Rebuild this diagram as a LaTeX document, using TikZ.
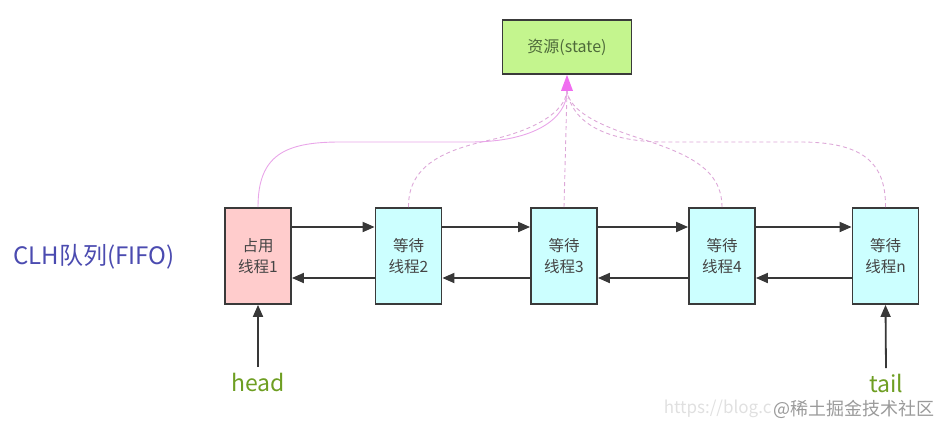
\documentclass[tikz,border=0pt]{standalone}
\usepackage{fontspec}
\setmainfont{Noto Sans CJK SC}
\usetikzlibrary{arrows.meta}
\definecolor{boxline}{HTML}{3A3A3A}
\definecolor{pinkfill}{HTML}{FFCCCC}
\definecolor{cyanfill}{HTML}{CCFFFF}
\definecolor{greenfill}{HTML}{C4F58E}
\definecolor{linkpink}{HTML}{E9A6E9}
\definecolor{dashpink}{HTML}{DDA8D8}
\definecolor{tipmag}{HTML}{F06EF0}
\definecolor{arrowgray}{HTML}{383838}
\definecolor{txtgray}{HTML}{454545}
\definecolor{labgreen}{HTML}{6E9E22}
\definecolor{clhblue}{HTML}{4B4BB0}
\definecolor{wmgray}{HTML}{9A9A9A}
\definecolor{statetxt}{HTML}{4E6A3A}
\tikzset{
  thread/.style={draw=boxline, line width=1.8pt, minimum width=66pt, minimum height=96pt,
    inner sep=0pt, align=center, font=\fontsize{15.5}{21}\selectfont, text=txtgray},
  statebox/.style={draw=boxline, line width=1.8pt, fill=greenfill, minimum width=129pt,
    minimum height=54pt, inner sep=0pt, font=\fontsize{16}{18}\selectfont, text=statetxt},
  link/.style={draw=arrowgray, line width=1.8pt, -{Triangle[length=12pt,width=10pt]}},
  solidres/.style={draw=linkpink, line width=0.9pt},
  dashres/.style={draw=dashpink, line width=0.9pt, dash pattern=on 4pt off 3pt},
  ptr/.style={font=\fontsize{23}{26}\selectfont, text=labgreen},
}
\begin{document}
\begin{tikzpicture}[x=1pt,y=-1pt]
\useasboundingbox (0,0) rectangle (938,426);
% nodes
\node[statebox] (st) at (567,47) {资源(state)};
\node[thread, fill=pinkfill] (b1) at (258,256) {占用\\线程1};
\node[thread, fill=cyanfill] (b2) at (408.5,256) {等待\\线程2};
\node[thread, fill=cyanfill] (b3) at (564,256) {等待\\线程3};
\node[thread, fill=cyanfill] (b4) at (722,256) {等待\\线程4};
\node[thread, fill=cyanfill] (bn) at (885.5,256) {等待\\线程n};
\node[font=\fontsize{24}{28}\selectfont, text=clhblue] (clh) at (94,257) {CLH队列(FIFO)};
\node[ptr] (hd) at (258,382) {head};
\node[ptr] (tl) at (886,383) {tail};
\node[font=\fontsize{17}{20}\selectfont, text=black!12, anchor=east] (wm1) at (775,409) {https://blog.c};
\node[font=\fontsize{18}{20}\selectfont, text=wmgray, anchor=west] (wm2) at (770,409) {@稀土掘金技术社区};
\coordinate (tip) at ([yshift=-16pt]st.south);
% resource links
\draw[dashres] (b2.north) .. controls (408,165) and (445,150) .. (490,140) .. controls (535,130) and (565,112) .. (tip);
\draw[dashres] (b3.north) -- (tip);
\draw[dashres] (b4.north) .. controls (722,170) and (690,155) .. (645,140) .. controls (600,126) and (570,112) .. (tip);
\draw[dashres] (bn.north) .. controls (886,162) and (862,142) .. (800,142) -- (665,142) .. controls (605,142) and (572,122) .. (tip);
\draw[solidres] (b1.north) .. controls (258,155) and (285,142) .. (340,142) -- (470,142) .. controls (535,142) and (567,118) .. (tip);
\draw[draw=none, fill=tipmag] (tip) -- ++(-6,0) -- (st.south) -- ++(6,16) -- cycle;
% queue links
\draw[link] ([yshift=29pt]b1.east) -- ([yshift=29pt]b2.west);
\draw[link] ([yshift=-22pt]b2.west) -- ([yshift=-22pt]b1.east);
\draw[link] ([yshift=29pt]b2.east) -- ([yshift=29pt]b3.west);
\draw[link] ([yshift=-22pt]b3.west) -- ([yshift=-22pt]b2.east);
\draw[link] ([yshift=29pt]b3.east) -- ([yshift=29pt]b4.west);
\draw[link] ([yshift=-22pt]b4.west) -- ([yshift=-22pt]b3.east);
\draw[link] ([yshift=29pt]b4.east) -- ([yshift=29pt]bn.west);
\draw[link] ([yshift=-22pt]bn.west) -- ([yshift=-22pt]b4.east);
% head / tail
\draw[link] ([yshift=2pt]hd.north) -- (b1.south);
\draw[link] ([yshift=2pt]tl.north) -- (bn.south);
\end{tikzpicture}
\end{document}
